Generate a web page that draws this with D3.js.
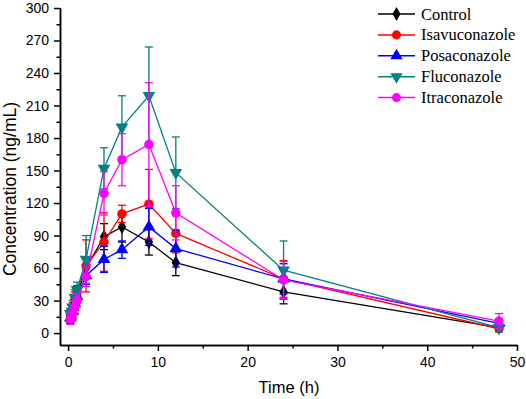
<!DOCTYPE html>
<html>
<head>
<meta charset="utf-8">
<script src="https://cdn.jsdelivr.net/npm/d3@7"></script>
<style>
  body { margin: 0; background: #fff; }
  svg { display: block; }
  .eixo text { font-family: 'Liberation Sans', Arial, sans-serif; font-size: 14px; fill: #000; }
  .eixo path, .eixo line { stroke: #000; stroke-width: 1.5; }
</style>
</head>
<body>
<svg width="526" height="399"></svg>
<script>
// ---- Dados
const tempos = [0.25, 0.5, 0.75, 1, 2, 4, 6, 9, 12, 24, 48];
const grupos = ['Control', 'Isavuconazole', 'Posaconazole', 'Fluconazole', 'Itraconazole'];

const control = [15, 19, 27, 35, 60, 89, 98, 84, 65, 38, 5];
const controlSd = [5, 6, 6, 6, 8, 12, 14, 12, 12, 11, 3];
const isavuconazole = [17, 22, 31, 38, 62, 84, 110, 119, 92, 50, 4];
const isavuconazoleSd = [5, 6, 7, 6, 24, 27, 8, 32, 18, 17, 3];
const posaconazole = [14, 20, 28, 34, 53, 68, 77, 98, 78, 50, 9];
const posaconazoleSd = [5, 6, 6, 6, 8, 12, 8, 17, 17, 14, 4];
const fluconazole = [18, 24, 33, 40, 68, 152, 190, 219, 148, 58, 5];
const fluconazoleSd = [5, 6, 7, 7, 22, 19, 29, 45, 33, 27, 3];
const itraconazole = [13, 18, 24, 30, 52, 129, 160, 174, 111, 49, 11];
const itraconazoleSd = [5, 6, 6, 6, 9, 20, 24, 57, 25, 17, 7];

const ticksX = [0, 10, 20, 30, 40, 50];
const ticksY = [0, 30, 60, 90, 120, 150, 180, 210, 240, 270, 300];

const series = [
    { nome: grupos[0], valores: control, sd: controlSd, cor: '#000000', simbolo: d3.symbolDiamond },
    { nome: grupos[1], valores: isavuconazole, sd: isavuconazoleSd, cor: '#ff0000', simbolo: d3.symbolCircle },
    { nome: grupos[2], valores: posaconazole, sd: posaconazoleSd, cor: '#0000ff', simbolo: d3.symbolTriangle },
    { nome: grupos[3], valores: fluconazole, sd: fluconazoleSd, cor: '#008080', simbolo: d3.symbolTriangle, inverte: true },
    { nome: grupos[4], valores: itraconazole, sd: itraconazoleSd, cor: '#ff00ff', simbolo: d3.symbolCircle }
];

const svg = d3.select('svg');
const margens = { left: 60, right: 9, top: 8, bottom: 54 };
const width = +svg.attr('width');
const height = +svg.attr('height');

// ---- Escalas
const mapX = d3.scaleLinear().domain([-0.9, 50]).range([margens.left, width - margens.right]);
const mapY = d3.scaleLinear().domain([-11, 300]).range([height - margens.bottom, margens.top]);

// ---- Eixos (ticks menores primeiro)
svg.append('g')
    .attr('class', 'eixo')
    .attr('transform', `translate(0, ${height - margens.bottom})`)
    .call(d3.axisBottom(mapX).tickValues(d3.range(5, 50, 10)).tickSize(3.5).tickFormat('').tickSizeOuter(0));

svg.append('g')
    .attr('class', 'eixo')
    .attr('transform', `translate(0, ${height - margens.bottom})`)
    .call(d3.axisBottom(mapX).tickValues(ticksX).tickSize(6).tickPadding(6).tickSizeOuter(0));

svg.append('g')
    .attr('class', 'eixo')
    .attr('transform', `translate(${margens.left}, 0)`)
    .call(d3.axisLeft(mapY).tickValues(d3.range(15, 300, 30)).tickSize(3.5).tickFormat('').tickSizeOuter(0));

svg.append('g')
    .attr('class', 'eixo')
    .attr('transform', `translate(${margens.left}, 0)`)
    .call(d3.axisLeft(mapY).tickValues(ticksY).tickSize(6).tickPadding(5).tickSizeOuter(0));

// ---- Rótulos
svg.append('text')
    .attr('x', 289)
    .attr('y', 393)
    .attr('text-anchor', 'middle')
    .style('font-family', "'Liberation Sans', Arial, sans-serif")
    .style('font-size', '16.5px')
    .text('Time (h)');

svg.append('text')
    .attr('transform', 'rotate(-90)')
    .attr('x', -189)
    .attr('y', 16)
    .attr('text-anchor', 'middle')
    .style('font-family', "'Liberation Sans', Arial, sans-serif")
    .style('font-size', '17.5px')
    .text('Concentration (ng/mL)');

// ---- Séries
const linha = d3.line()
    .x((d, i) => mapX(tempos[i]))
    .y(d => mapY(d));

series.forEach(s => {
    const g = svg.append('g');

    // barras de erro
    s.valores.forEach((v, i) => {
        const x = mapX(tempos[i]);
        const y0 = mapY(v - s.sd[i]);
        const y1 = mapY(v + s.sd[i]);
        g.append('line').attr('x1', x).attr('x2', x).attr('y1', y0).attr('y2', y1)
            .attr('stroke', s.cor).attr('stroke-width', 1.3);
        [y0, y1].forEach(yc => {
            g.append('line').attr('x1', x - 4).attr('x2', x + 4).attr('y1', yc).attr('y2', yc)
                .attr('stroke', s.cor).attr('stroke-width', 1.3);
        });
    });

    g.append('path')
        .datum(s.valores)
        .attr('d', linha)
        .attr('fill', 'none')
        .attr('stroke', s.cor)
        .attr('stroke-width', 1.3);

    g.selectAll('simbolo')
        .data(s.valores)
        .enter()
        .append('path')
        .attr('d', d3.symbol().type(s.simbolo).size(s.simbolo === d3.symbolDiamond ? 60 : 70))
        .attr('transform', (d, i) => `translate(${mapX(tempos[i])}, ${mapY(d)})${s.inverte ? ' rotate(180)' : ''}`)
        .attr('fill', s.cor);
});

// ---- Legenda
const legenda = svg.append('g').attr('transform', 'translate(378, 14)');

series.forEach((s, i) => {
    const item = legenda.append('g').attr('transform', `translate(0, ${i * 20.9})`);
    item.append('line').attr('x1', 0).attr('x2', 37).attr('y1', 0).attr('y2', 0)
        .attr('stroke', s.cor).attr('stroke-width', 1.5);
    item.append('path')
        .attr('d', d3.symbol().type(s.simbolo).size(s.simbolo === d3.symbolDiamond ? 55 : 65))
        .attr('transform', `translate(18.5, 0)${s.inverte ? ' rotate(180)' : ''}`)
        .attr('fill', s.cor);
    item.append('text')
        .attr('x', 43)
        .attr('y', 5.5)
        .style('font-family', "'Liberation Serif', 'Times New Roman', serif")
        .style('font-size', '16.5px')
        .text(s.nome);
});
</script>
</body>
</html>
